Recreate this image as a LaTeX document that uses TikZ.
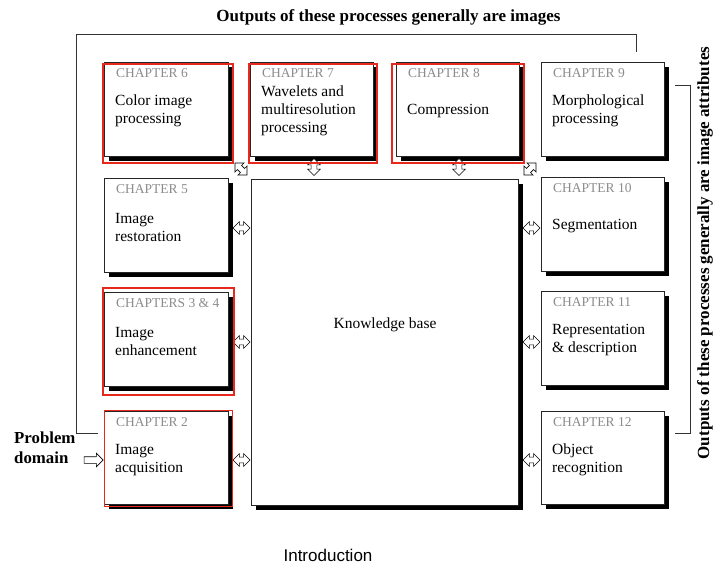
\documentclass[tikz,border=0pt]{standalone}
\usepackage{fontspec}
\setmainfont{Liberation Serif}
\newfontfamily\arialfont{Liberation Sans}
\usetikzlibrary{shapes.arrows,shadows}
\definecolor{chgray}{HTML}{8C8C8C}
\definecolor{redframe}{HTML}{E8281C}
\begin{document}
\begin{tikzpicture}[x=1pt,y=-1pt,
 chbox/.style={draw=black!85, line width=0.8pt, fill=white, anchor=north west, inner sep=0pt,
   minimum width=124pt, minimum height=94pt,
   drop shadow={shadow xshift=5pt, shadow yshift=-5pt, fill=black, opacity=1}},
 chlab/.style={anchor=base west, inner sep=0pt, text=chgray, font=\fontsize{13.5}{15}\selectfont},
 chtxt/.style={anchor=west, inner sep=0pt, align=left, font=\fontsize{15.5}{18}\selectfont},
 dblarr/.style={double arrow, draw=black, fill=white, line width=0.6pt, minimum height=17pt,
   minimum width=12pt, double arrow head extend=3.5pt, inner xsep=0pt, inner ysep=2.6pt},
 sglarr/.style={single arrow, draw=black, fill=white, line width=0.6pt, minimum height=19pt,
   minimum width=13pt, single arrow head extend=3.5pt, inner xsep=0pt, inner ysep=3pt},
 redbox/.style={draw=redframe, line width=2pt},
 bracket/.style={draw=black!80, line width=0.9pt}]
\useasboundingbox (0,0) rectangle (716,565);

% title and side texts
\node[anchor=base, inner sep=0pt, font=\bfseries\fontsize{17}{20}\selectfont] (title) at (388.5,21) {Outputs of these processes generally are images};
\node[rotate=90, inner sep=0pt, font=\bfseries\fontsize{17}{20}\selectfont] (side) at (705,253) {Outputs of these processes generally are image attributes};
\node[anchor=base west, inner sep=0pt, align=left, font=\bfseries\fontsize{16.8}{20}\selectfont] (pd) at (14,463) {Problem\\domain};
\node[anchor=base, inner sep=0pt, font=\arialfont\fontsize{17}{20}\selectfont] (intro) at (328,561) {Introduction};

% brackets
\coordinate (bl0) at (98,433);
\coordinate (bl1) at (76,433);
\coordinate (bl2) at (76,34);
\coordinate (bl3) at (636,34);
\coordinate (bl4) at (636,52);
\draw[bracket] (bl0) -- (bl1) -- (bl2) -- (bl3) -- (bl4);
\coordinate (br0) at (675,85);
\coordinate (br1) at (690,85);
\coordinate (br2) at (690,433);
\coordinate (br3) at (675,433);
\draw[bracket] (br0) -- (br1) -- (br2) -- (br3);

% boxes
\node[chbox] (c6) at (104,62) {};
\node[chbox, minimum width=123pt] (c7) at (250,62) {};
\node[chbox, minimum width=123pt] (c8) at (396,62) {};
\node[chbox, minimum width=123pt] (c9) at (541,62) {};
\node[chbox] (c5) at (104,178) {};
\node[chbox] (c34) at (104,292) {};
\node[chbox, minimum height=93pt] (c2) at (104,411) {};
\node[chbox, minimum width=123pt] (c10) at (541,177) {};
\node[chbox, minimum width=123pt] (c11) at (541,291) {};
\node[chbox, minimum width=123pt, minimum height=93pt] (c12) at (541,411) {};
\node[chbox, minimum width=267pt, minimum height=326pt] (kb) at (251,179) {};
\node[inner sep=0pt, font=\fontsize{15.5}{18}\selectfont] (kbt) at (385,325) {Knowledge base};

% labels
\foreach \n/\l in {c6/CHAPTER 6, c7/CHAPTER 7, c8/CHAPTER 8, c9/CHAPTER 9, c5/CHAPTER 5,
  c34/CHAPTERS 3 \& 4, c2/CHAPTER 2, c10/CHAPTER 10, c11/CHAPTER 11, c12/CHAPTER 12}
  \node[chlab] (\n l) at ([xshift=12pt,yshift=-15pt]\n.north west) {\l};
\node[chtxt] (c6t) at ([xshift=11pt,yshift=-49pt]c6.north west) {Color image\\processing};
\node[chtxt] (c7t) at ([xshift=11pt,yshift=-49pt]c7.north west) {Wavelets and\\multiresolution\\processing};
\node[chtxt] (c8t) at ([xshift=11pt,yshift=-49pt]c8.north west) {Compression};
\node[chtxt] (c9t) at ([xshift=11pt,yshift=-49pt]c9.north west) {Morphological\\processing};
\node[chtxt] (c5t) at ([xshift=11pt,yshift=-49pt]c5.north west) {Image\\restoration};
\node[chtxt] (c34t) at ([xshift=11pt,yshift=-49pt]c34.north west) {Image\\enhancement};
\node[chtxt] (c2t) at ([xshift=11pt,yshift=-49pt]c2.north west) {Image\\acquisition};
\node[chtxt] (c10t) at ([xshift=11pt,yshift=-49pt]c10.north west) {Segmentation};
\node[chtxt] (c11t) at ([xshift=11pt,yshift=-49pt]c11.north west) {Representation\\\& description};
\node[chtxt] (c12t) at ([xshift=11pt,yshift=-49pt]c12.north west) {Object\\recognition};

% arrows
\node[dblarr] (a5) at (241.5,228) {};
\node[dblarr] (a34) at (241.5,342) {};
\node[dblarr] (a2) at (241.5,460) {};
\node[dblarr] (a10) at (531.5,228) {};
\node[dblarr] (a11) at (531.5,342) {};
\node[dblarr] (a12) at (531.5,460) {};
\node[dblarr, rotate=90] (a7) at (314,167) {};
\node[dblarr, rotate=90] (a8) at (459,167) {};
\node[dblarr, rotate=-45] (a6) at (241,169) {};
\node[dblarr, rotate=45] (a9) at (530,169) {};
\node[sglarr] (pa) at (92,460) {};

% red frames
\draw[redbox] ([xshift=-1pt,yshift=-2pt]c6.north west) rectangle ([xshift=4pt,yshift=-6pt]c6.south east);
\draw[redbox] ([xshift=-1pt,yshift=-2pt]c7.north west) rectangle ([xshift=3pt,yshift=-6pt]c7.south east);
\draw[redbox] ([xshift=-4pt,yshift=-2pt]c8.north west) rectangle ([xshift=4pt,yshift=-6pt]c8.south east);
\draw[redbox] ([xshift=-1pt,yshift=4pt]c34.north west) rectangle ([xshift=5pt,yshift=-8pt]c34.south east);
\draw[redbox, line width=1pt] ([xshift=0pt,yshift=1pt]c2.north west) rectangle ([xshift=4pt,yshift=-2pt]c2.south east);
\end{tikzpicture}
\end{document}
